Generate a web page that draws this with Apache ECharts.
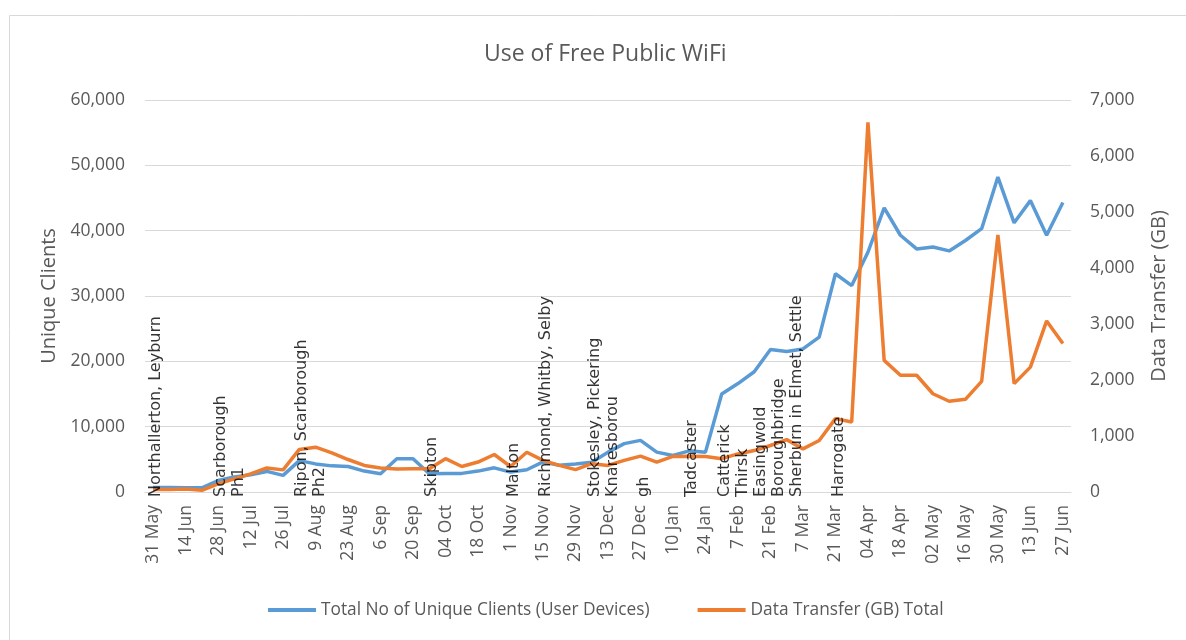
<!DOCTYPE html>
<html>
<head>
<meta charset="utf-8">
<title>Use of Free Public WiFi</title>
<script src="https://cdn.jsdelivr.net/npm/echarts@6/dist/echarts.min.js"></script>
<style>
  html, body { margin: 0; padding: 0; background: #fff; }
  #chart { width: 1186px; height: 640px; }
</style>
</head>
<body>
<div id="chart"></div>
<script>
// weekly dates, every other one is shown as an axis label
const weeks = [
  '31 May', '07 Jun', '14 Jun', '21 Jun', '28 Jun', '05 Jul', '12 Jul', '19 Jul', '26 Jul', '2 Aug',
  '9 Aug', '16 Aug', '23 Aug', '30 Aug', '6 Sep', '13 Sep', '20 Sep', '27 Sep', '04 Oct', '11 Oct',
  '18 Oct', '25 Oct', '1 Nov', '8 Nov', '15 Nov', '22 Nov', '29 Nov', '6 Dec', '13 Dec', '20 Dec',
  '27 Dec', '3 Jan', '10 Jan', '17 Jan', '24 Jan', '31 Jan', '7 Feb', '14 Feb', '21 Feb', '28 Feb',
  '7 Mar', '14 Mar', '21 Mar', '28 Mar', '04 Apr', '11 Apr', '18 Apr', '25 Apr', '02 May', '09 May',
  '16 May', '23 May', '30 May', '06 Jun', '13 Jun', '20 Jun', '27 Jun'
]

const uniqueClients = [
  700, 700, 650, 650, 1750, 2300, 2650, 3150, 2550, 4800,
  4300, 4000, 3900, 3200, 2800, 5100, 5100, 2800, 2850, 2850,
  3200, 3700, 3050, 3400, 4600, 4100, 4300, 4550, 6100, 7400,
  7900, 6100, 5600, 6300, 6100, 15000, 16600, 18400, 21800, 21500,
  21900, 23700, 33400, 31600, 36700, 43500, 39300, 37200, 37500, 36900,
  38500, 40300, 48200, 41200, 44600, 39300, 44300
]

const dataTransferGB = [
  45, 45, 55, 30, 145, 235, 325, 430, 395, 760,
  800, 700, 580, 475, 430, 410, 415, 415, 595, 455,
  535, 670, 455, 710, 565, 475, 400, 505, 475, 565,
  640, 535, 635, 640, 635, 595, 680, 740, 830, 935,
  770, 920, 1310, 1250, 6600, 2350, 2085, 2085, 1755, 1620,
  1655, 1975, 4590, 1935, 2230, 3055, 2650
]

// site roll-out notes written up from the axis
const annotationWeeks = ['31 May', '28 Jun', '2 Aug', '27 Sep', '1 Nov', '15 Nov', '6 Dec', '27 Dec', '17 Jan', '31 Jan', '21 Mar']
const annotationTexts = [
  'Northallerton, Leyburn',
  'Scarborough\nPh1',
  'Ripon, Scarborough\nPh2',
  'Skipton',
  'Malton',
  'Richmond, Whitby, Selby',
  'Stokesley, Pickering\nKnaresborou',
  'gh',
  'Tadcaster',
  'Catterick\nThirsk\nEasingwold\nBoroughbridge\nSherburn in Elmet, Settle',
  'Harrogate'
]

const seriesNames = ['Total No of Unique Clients (User Devices)', 'Data Transfer (GB) Total']

const chart = echarts.init(document.getElementById('chart'))

const grey = '#595959'
const font = 'Open Sans'

const option = {
  animation: false,
  textStyle: { fontFamily: font },
  title: {
    text: 'Use of Free Public WiFi',
    left: 479,
    top: 34,
    textStyle: { fontFamily: font, fontSize: 23, fontWeight: 'normal', color: grey, lineHeight: 30 }
  },
  graphic: [
    {
      type: 'rect',
      z: -10,
      shape: { x: 9.5, y: 15.5, width: 1200, height: 700 },
      style: { fill: 'none', stroke: '#d9d9d9', lineWidth: 1 }
    }
  ],
  legend: {
    data: seriesNames,
    left: 263,
    top: 594,
    icon: 'rect',
    itemWidth: 48,
    itemHeight: 4,
    itemGap: 48,
    textStyle: { fontFamily: font, fontSize: 17.3, color: grey, lineHeight: 22 }
  },
  grid: {
    left: 145,
    right: 115,
    top: 100,
    bottom: 148,
    containLabel: false
  },
  xAxis: {
    type: 'category',
    data: weeks,
    boundaryGap: true,
    axisTick: { show: false },
    axisLine: { lineStyle: { color: '#d9d9d9' } },
    axisLabel: {
      interval: 1,
      rotate: 90,
      margin: 13,
      fontFamily: font,
      fontSize: 17.5,
      color: grey
    }
  },
  yAxis: [
    {
      type: 'value',
      min: 0,
      max: 60000,
      interval: 10000,
      name: 'Unique Clients',
      nameLocation: 'middle',
      nameGap: 80,
      nameTextStyle: { fontFamily: font, fontSize: 20, color: grey },
      axisLine: { show: false },
      axisTick: { show: false },
      splitLine: { lineStyle: { color: '#d9d9d9', width: 1 } },
      axisLabel: {
        margin: 20,
        fontFamily: font,
        fontSize: 17.5,
        color: grey,
        formatter: (v) => v.toLocaleString('en-US')
      }
    },
    {
      type: 'value',
      min: 0,
      max: 7000,
      interval: 1000,
      name: 'Data Transfer (GB)',
      nameLocation: 'middle',
      nameGap: 78,
      nameTextStyle: { fontFamily: font, fontSize: 20, color: grey },
      axisLine: { show: false },
      axisTick: { show: false },
      splitLine: { show: false },
      axisLabel: {
        margin: 19,
        fontFamily: font,
        fontSize: 17.5,
        color: grey,
        formatter: (v) => v.toLocaleString('en-US')
      }
    }
  ],
  series: [
    {
      name: seriesNames[0],
      type: 'line',
      data: uniqueClients,
      yAxisIndex: 0,
      symbol: 'none',
      color: '#5B9BD5',
      lineStyle: { width: 3.5, color: '#5B9BD5' },
      z: 2
    },
    {
      name: seriesNames[1],
      type: 'line',
      data: dataTransferGB,
      yAxisIndex: 1,
      symbol: 'none',
      color: '#ED7D31',
      lineStyle: { width: 3.5, color: '#ED7D31' },
      z: 3
    },
    {
      // invisible points that carry the site labels
      name: 'notes',
      type: 'scatter',
      yAxisIndex: 0,
      data: annotationWeeks.map((w) => [w, 0]),
      symbolSize: 1,
      itemStyle: { color: 'rgba(0,0,0,0)' },
      silent: true,
      z: 10,
      label: {
        show: true,
        position: 'inside',
        rotate: 90,
        align: 'left',
        verticalAlign: 'top',
        offset: [-5, -6],
        fontFamily: 'DejaVu Sans',
        fontSize: 16,
        lineHeight: 18,
        color: '#000',
        formatter: (p) => annotationTexts[p.dataIndex]
      },
      emphasis: { disabled: true }
    }
  ]
}

chart.setOption(option)
</script>
</body>
</html>
